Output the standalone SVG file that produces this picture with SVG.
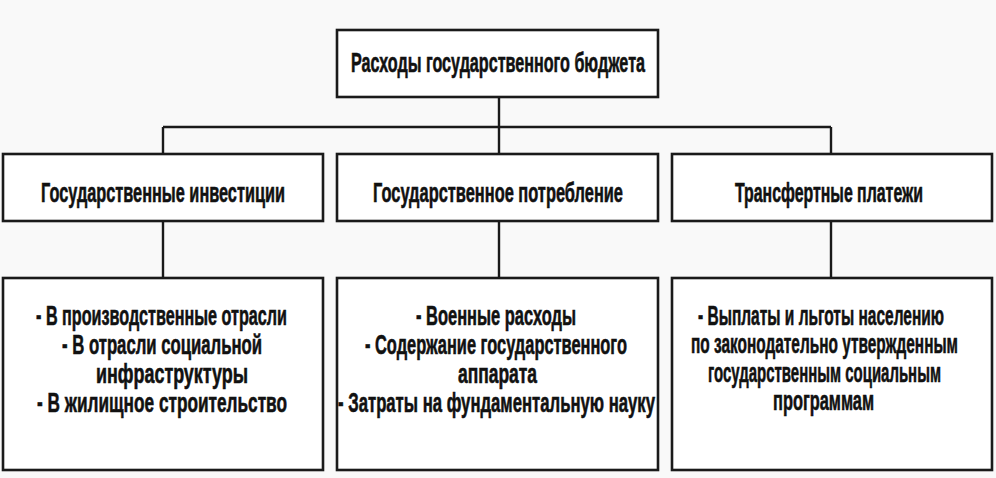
<svg xmlns="http://www.w3.org/2000/svg" width="996" height="478" viewBox="0 0 996 478">
<style>
.box{fill:#ffffff;stroke:#1a1a1a;stroke-width:2.6}
.ln{fill:none;stroke:#1a1a1a;stroke-width:2.4}
text{font-family:"Liberation Sans Narrow","Liberation Sans",Arial,sans-serif;font-weight:bold;font-size:27px;fill:#111111;stroke:#111111;stroke-width:0.6}
</style>
<rect x="0" y="0" width="996" height="478" fill="#f9f9f9"/>
<g id="connectors">
<path class="ln" d="M499 97 V154 M163 127 H831 M163 127 V154 M831 127 V154"/>
<path class="ln" d="M163 221 V278 M499 221 V278 M831 221 V278"/>
</g>
<g id="root">
<rect class="box" x="337" y="30" width="321" height="67"/>
<text x="351" y="72" textLength="294" lengthAdjust="spacingAndGlyphs">Расходы государственного бюджета</text>
</g>
<g id="investments">
<rect class="box" x="3" y="154" width="320" height="67"/>
<text x="41" y="202" textLength="244" lengthAdjust="spacingAndGlyphs">Государственные инвестиции</text>
</g>
<g id="consumption">
<rect class="box" x="337" y="154" width="321" height="67"/>
<text x="373" y="202" textLength="250" lengthAdjust="spacingAndGlyphs">Государственное потребление</text>
</g>
<g id="transfers">
<rect class="box" x="672" y="154" width="320" height="67"/>
<text x="735" y="202" textLength="188" lengthAdjust="spacingAndGlyphs">Трансфертные платежи</text>
</g>
<g id="investments-items">
<rect class="box" x="3" y="278" width="320" height="192"/>
<text x="36" y="325" textLength="251" lengthAdjust="spacingAndGlyphs">- В производственные отрасли</text>
<text x="62" y="354" textLength="200" lengthAdjust="spacingAndGlyphs">- В отрасли социальной</text>
<text x="96" y="383" textLength="152" lengthAdjust="spacingAndGlyphs">инфраструктуры</text>
<text x="37" y="412" textLength="250" lengthAdjust="spacingAndGlyphs">- В жилищное строительство</text>
</g>
<g id="consumption-items">
<rect class="box" x="337" y="278" width="321" height="192"/>
<text x="416" y="325" textLength="160" lengthAdjust="spacingAndGlyphs">- Военные расходы</text>
<text x="365" y="354" textLength="262" lengthAdjust="spacingAndGlyphs">- Содержание государственного</text>
<text x="458" y="383" textLength="79" lengthAdjust="spacingAndGlyphs">аппарата</text>
<text x="338" y="412" textLength="317" lengthAdjust="spacingAndGlyphs">- Затраты на фундаментальную науку</text>
</g>
<g id="transfers-items">
<rect class="box" x="672" y="278" width="320" height="192"/>
<text x="698" y="325" textLength="246" lengthAdjust="spacingAndGlyphs">- Выплаты и льготы населению</text>
<text x="691" y="353" textLength="267" lengthAdjust="spacingAndGlyphs">по законодательно утвержденным</text>
<text x="708" y="382" textLength="233" lengthAdjust="spacingAndGlyphs">государственным социальным</text>
<text x="773" y="410" textLength="101" lengthAdjust="spacingAndGlyphs">программам</text>
</g>
</svg>
